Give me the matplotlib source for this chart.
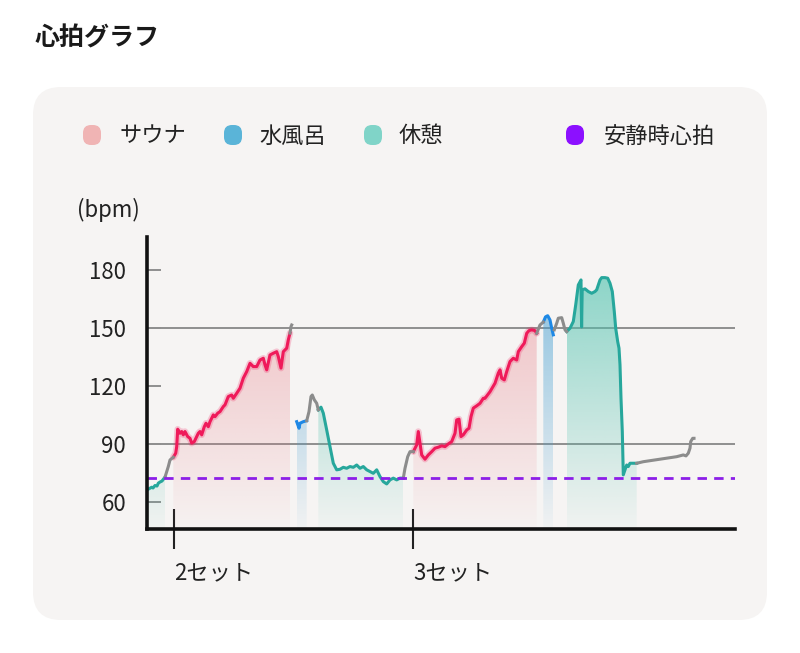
import numpy as np
import matplotlib
matplotlib.use("Agg")
import matplotlib.pyplot as plt
from matplotlib.patches import FancyBboxPatch, Polygon

plt.rcParams['font.family'] = ['Noto Sans CJK JP', 'DejaVu Sans']

# ---------------- data (time index, bpm) ----------------
rest1_t = [0, 2, 4.7, 6, 8, 10, 11.3, 13, 15, 16.3, 18]
rest1_bpm = [66.2, 66.8, 67.6, 67.2, 68.5, 68.2, 69.7, 70.3, 70.8, 71.7, 72.8]

gray1_t = [18, 21.3, 23, 26.3]
gray1_bpm = [72.8, 78.3, 81.7, 83.1]

sauna1_t = [26.3, 28.7, 29.7, 30.7, 33, 34.7, 36.3, 38, 40.7, 43,
            44.7, 47.3, 49.7, 51.3, 53, 54.7, 57.3, 59, 61.3, 63,
            64.7, 66.3, 68, 70.7, 73, 76.3, 78, 81.3, 84.7, 86.3,
            89.7, 93, 96.3, 99.7, 103, 106.3, 109.7, 113, 116.3, 118,
            119.7, 123, 126.3, 129.7, 131.3, 134, 136.3, 139.7, 141.3, 143]
sauna1_bpm = [83.1, 85.2, 88.6, 97.6, 95.5, 96.4, 94.7, 96.4, 93.8, 92.9,
              90.4, 91.2, 93.8, 95.5, 96.4, 94.7, 98.9, 100.7, 98.9, 101.5,
              103.3, 105, 104.1, 105.9, 106.7, 109.3, 110.2, 114.5, 115.3, 113.6,
              116.2, 118.8, 124, 127.4, 131.7, 130, 130, 133.4, 134.3, 130.9,
              128.3, 136, 136.9, 137.7, 135.2, 129.2, 137.7, 139.5, 143.8, 147.3]

gray2_t = [143, 144, 144.7]
gray2_bpm = [147.3, 150.7, 151.5]

water1_t = [149.7, 152, 153, 156.3, 159.7]
water1_bpm = [101.5, 98.1, 100.7, 101.5, 102]

gray3_t = [159.7, 162, 164, 165.3, 167.3, 169.7, 171.3]
gray3_bpm = [102, 106.7, 114.5, 115.3, 112.8, 111, 107.6]

rest2_t = [171.3, 174, 176.3, 179.7, 183, 186.3, 189.7, 193, 196.3, 199.7,
           203, 206.3, 209.7, 213, 216.3, 219.7, 223, 226.3, 229.7, 233,
           236.3, 239.7, 243, 246.3, 249.7, 253, 256.3]
rest2_bpm = [107.6, 109, 105.9, 97.2, 88.6, 80, 76.6, 76.9, 77.9, 77.4,
             78.3, 77.9, 79.1, 77.4, 78.3, 76.6, 75.7, 74.8, 76.6, 73.1,
             70.5, 69.3, 71.4, 72.3, 71.4, 72.3, 72.3]

gray4_t = [256.3, 258, 260.7, 263, 266.3]
gray4_bpm = [72.3, 77.4, 83.4, 86, 86]

sauna2_t = [266.3, 269.7, 271.3, 273, 274.7, 278, 281.3, 284.7, 288, 291.3,
            294.7, 298, 301.3, 304.7, 308, 309.7, 312, 314, 316.3, 319.7,
            322, 324, 326.3, 329.7, 333, 336.3, 338, 343, 348, 351.3,
            353, 354.7, 357.3, 359.7, 363, 366.3, 369.7, 371.3, 374.7, 377.3,
            379.7, 382, 384.7, 388, 389.7]
sauna2_bpm = [86, 89.5, 96.4, 90.4, 84.3, 82.1, 84.3, 86, 87.8, 88.3,
              89, 88.6, 90, 91.2, 95.5, 102.4, 102.8, 93.8, 94.7, 97.2,
              98.1, 104.1, 108.5, 109.7, 111, 113.6, 113.6, 117, 121.4, 126.6,
              128.3, 124, 123.1, 127.4, 132.6, 134.3, 133.4, 137.7, 140.3, 142.1,
              147.2, 148.6, 149, 148.6, 147.2]

gray5_t = [389.7, 393, 396.3]
gray5_bpm = [147.2, 151.5, 153]

water2_t = [396.3, 398.5, 400.7, 403, 404.7, 406.3]
water2_bpm = [153, 155.7, 156.3, 154.1, 149.8, 146.4]

gray6_t = [407.3, 409.7, 411.3, 414.7, 416.3, 418, 419.7]
gray6_bpm = [149, 152.4, 155, 155.3, 152.4, 149, 148.1]

rest3_t = [419.7, 423, 426.3, 428.7, 431.3, 434, 434.6, 435.2, 438, 441.3,
           444.7, 448, 449.7, 451.3, 453, 454.7, 458, 460.7, 463, 465.3,
           467.3, 468.7, 470.7, 472, 473, 474, 475.3, 476.3, 478, 479.7,
           481.3, 483, 486.3, 489.7]
rest3_bpm = [148.1, 149.8, 153.3, 161.9, 172.2, 174.8, 150.5, 169.7, 170.2, 168.8,
             167.9, 168.8, 169.7, 172.2, 174.8, 176, 176, 175.7, 173.1, 168.8,
             158.4, 149.8, 142.9, 139.5, 130.9, 113.6, 96.4, 74, 76.6, 79.1,
             78.3, 80, 80, 80]

gray7_t = [489.7, 496.3, 513, 529.7, 536.3, 539, 541.3, 543, 543.7, 545.7, 547]
gray7_bpm = [80, 80.8, 82.1, 83.4, 84.3, 83.8, 85.2, 87.8, 91.2, 92.9, 92.9]

resting_hr = 72.5
set_ticks = [27, 266]
set_labels = ['2セット', '3セット']
y_ticks = [60, 90, 120, 150, 180]
grid_levels = [90, 150]
legend_labels = ['サウナ', '水風呂', '休憩', '安静時心拍']

# ---------------- styles ----------------
Y0, Y1 = 46, 197
X0, X1 = 0, 588
RED, BLUE, TEAL, GRAY = '#ef1a5a', '#1e88e5', '#27a79c', '#8c8c8c'
PURPLE = '#8c1ee8'
CARD = '#f6f4f3'

fig = plt.figure(figsize=(8, 6.53), dpi=100)
fig.patch.set_facecolor('white')

bg = fig.add_axes([0, 0, 1, 1])
bg.set_xlim(0, 800)
bg.set_ylim(653, 0)
bg.axis('off')
bg.set_zorder(0)

bg.add_patch(FancyBboxPatch((33, 87), 734, 533,
                            boxstyle='round,pad=0,rounding_size=28',
                            facecolor=CARD, edgecolor='none'))
bg.text(35, 38, '心拍グラフ', fontsize=18, fontweight='bold',
        va='center', ha='left', color='#1a1a1a')

leg_colors = ['#f0b4b4', '#5ab4d8', '#80d4c8', '#8c10ff']
leg_mx = [92, 233, 373, 575]
leg_tx = [120, 259, 399, 604]
for lab, c, mx, tx in zip(legend_labels, leg_colors, leg_mx, leg_tx):
    bg.add_patch(FancyBboxPatch((mx - 9, 135 - 10), 18, 20,
                                boxstyle='round,pad=0,rounding_size=8',
                                facecolor=c, edgecolor='none'))
    bg.text(tx, 136, lab, fontsize=16, va='center', ha='left', color='#222222')

bg.text(77, 210, '(bpm)', fontsize=16, va='center', ha='left', color='#222222')

ax = fig.add_axes([147 / 800, (653 - 529) / 653, 588 / 800, 292 / 653])
ax.set_zorder(1)
ax.patch.set_visible(False)


def gradient_fill(t, bpm, rgb, a_bot, a_top):
    t = np.asarray(t, float)
    y = np.asarray(bpm, float)
    verts = np.vstack([np.column_stack([t, y]), [[t[-1], Y0], [t[0], Y0]]])
    poly = Polygon(verts, closed=True, facecolor='none', edgecolor='none')
    ax.add_patch(poly)
    n = 256
    img = np.zeros((n, 1, 4))
    img[:, 0, :3] = np.array(rgb) / 255.0
    img[:, 0, 3] = np.linspace(a_bot, a_top, n)
    im = ax.imshow(img, extent=[t[0], t[-1], Y0, Y1], origin='lower',
                   aspect='auto', interpolation='bilinear', zorder=2)
    im.set_clip_path(poly)


SAUNA_RGB, WATER_RGB, REST_RGB = (232, 120, 130), (70, 160, 210), (80, 195, 175)
for t, b in [(sauna1_t, sauna1_bpm), (sauna2_t, sauna2_bpm)]:
    gradient_fill(t, b, SAUNA_RGB, 0.02, 0.51)
for t, b in [(water1_t, water1_bpm), (water2_t, water2_bpm)]:
    gradient_fill(t, b, WATER_RGB, 0.03, 0.71)
for t, b in [(rest1_t, rest1_bpm), (rest2_t, rest2_bpm), (rest3_t, rest3_bpm)]:
    gradient_fill(t, b, REST_RGB, 0.03, 0.73)

for g in grid_levels:
    ax.axhline(g, color='#8f8f8f', lw=1.4, zorder=1)

lw = 2.2
for t, b in [(sauna1_t, sauna1_bpm), (sauna2_t, sauna2_bpm)]:
    ax.plot(t, b, color=RED, lw=lw + 2.5, alpha=0.22, zorder=3,
            solid_joinstyle='round', solid_capstyle='round')
    ax.plot(t, b, color=RED, lw=lw, zorder=3.1, solid_joinstyle='round')
for t, b in [(water1_t, water1_bpm), (water2_t, water2_bpm)]:
    ax.plot(t, b, color=BLUE, lw=lw, zorder=3.1, solid_joinstyle='round')
for t, b in [(rest1_t, rest1_bpm), (rest2_t, rest2_bpm), (rest3_t, rest3_bpm)]:
    ax.plot(t, b, color=TEAL, lw=lw, zorder=3.1, solid_joinstyle='round')
for t, b in [(gray1_t, gray1_bpm), (gray2_t, gray2_bpm), (gray3_t, gray3_bpm),
             (gray4_t, gray4_bpm), (gray5_t, gray5_bpm), (gray6_t, gray6_bpm),
             (gray7_t, gray7_bpm)]:
    ax.plot(t, b, color=GRAY, lw=lw, zorder=3.1, solid_joinstyle='round')

ax.axhline(resting_hr, color=PURPLE, lw=2.0, ls=(0, (3.4, 2.6)), zorder=4)

ax.set_xlim(X0, X1)
ax.set_ylim(Y0, Y1)

for s in ['top', 'right']:
    ax.spines[s].set_visible(False)
for s in ['left', 'bottom']:
    ax.spines[s].set_linewidth(2.6)
    ax.spines[s].set_color('#111111')
    ax.spines[s].set_zorder(5)

ax.set_yticks(y_ticks)
ax.set_yticklabels([str(v) for v in y_ticks])
ax.tick_params(axis='y', direction='in', length=10, width=1.4, color='#8f8f8f',
               pad=15, labelsize=16, labelcolor='#222222')

ax.set_xticks(set_ticks)
ax.set_xticklabels(set_labels)
ax.tick_params(axis='x', direction='inout', length=29, width=1.5, color='#222222',
               pad=9, labelsize=16, labelcolor='#222222')
for lab in ax.get_xticklabels():
    lab.set_horizontalalignment('left')

fig.savefig('out.png', dpi=100, facecolor='white')
